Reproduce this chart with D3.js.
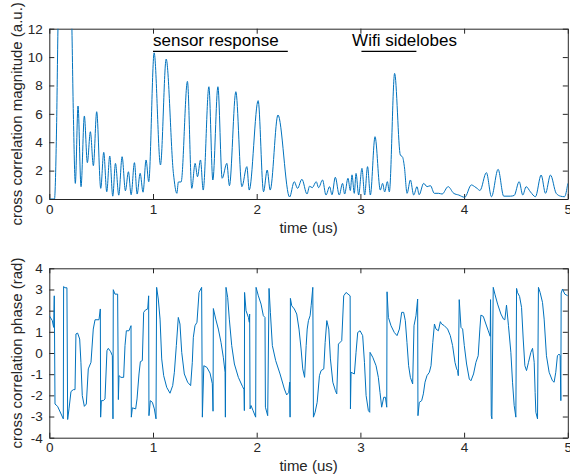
<!DOCTYPE html>
<html>
<head>
<meta charset="utf-8">
<script src="https://cdn.jsdelivr.net/npm/d3@7"></script>
<style>
  body { margin: 0; background: #fff; }
  svg { font-family: "Liberation Sans", Arial, Helvetica, sans-serif; }
  .axis path, .axis line { stroke: #262626; }
  .axis text { fill: #262626; font-size: 13.5px; font-family: "Liberation Sans", Arial, sans-serif; }
  .label { fill: #262626; font-size: 15px; }
</style>
</head>
<body>
<svg id="chart" width="570" height="476"></svg>
<script>
const magT = [0, 0.05, 0.07, 0.085, 0.15, 0.215, 0.232, 0.251, 0.277, 0.306, 0.338, 0.367, 0.396, 0.425, 0.457,
  0.496, 0.525, 0.554, 0.583, 0.612, 0.638, 0.67, 0.702, 0.734, 0.763, 0.789, 0.821, 0.847, 0.876, 0.904,
  0.933, 0.959, 1.011, 1.072, 1.127, 1.197, 1.23, 1.245, 1.271, 1.332, 1.374, 1.406, 1.429, 1.458, 1.484,
  1.539, 1.577, 1.626, 1.667, 1.712, 1.737, 1.799, 1.857, 1.905, 1.928, 2.014, 2.066, 2.101, 2.13, 2.205,
  2.317, 2.362, 2.394, 2.436, 2.485, 2.51, 2.536, 2.574, 2.597, 2.635, 2.668, 2.703, 2.726, 2.758, 2.796,
  2.828, 2.848, 2.88, 2.903, 2.919, 2.941, 2.958, 2.983, 3.015, 3.041, 3.069, 3.096, 3.141, 3.192, 3.214,
  3.234, 3.26, 3.279, 3.33, 3.385, 3.407, 3.424, 3.45, 3.482, 3.514, 3.546, 3.566, 3.61, 3.643, 3.675,
  3.713, 3.755, 3.788, 3.846, 3.9, 3.948, 4.006, 4.07, 4.102, 4.125, 4.153, 4.215, 4.264, 4.328, 4.382,
  4.447, 4.483, 4.531, 4.566, 4.598, 4.64, 4.688, 4.743, 4.785, 4.833, 4.888, 4.93, 4.968, 5.0];
const magV = [0, 0, 5, 12.5, 22, 13, 6, 1.1, 6.55, 0.87, 5.85, 2.56, 4.74, 2.35, 6.15,
  0.75, 3.29, 0.51, 3.03, 0.2, 2.51, 0.27, 2.98, 0.58, 1.92, 0.3, 2.56, 0.35, 1.81, 0.48,
  2.75, 1.22, 10.3, 2.4, 9.86, 1.8, 0.4, 1.2, 1.2, 8.29, 0.75, 2.51, 1.57, 2.75, 0.63,
  7.91, 1.34, 7.91, 1.46, 2.51, 0.94, 7.56, 0.87, 2.28, 0.63, 6.93, 0.51, 2.04, 0.63, 5.92,
  0.14, 1.22, 0.75, 1.39, 0.35, 0.9, 0.8, 1.22, 0.8, 1.34, 0.28, 0.87, 0.3, 1.53, 0.28,
  1.1, 0.35, 1.46, 0.6, 1.7, 0.4, 1.8, 0.28, 2.16, 0.28, 2.28, 0.28, 4.39, 0.63, 1.1,
  0.5, 1.22, 0.5, 8.85, 3.1, 2.95, 2.28, 0.4, 1.34, 0.28, 0.87, 0.3, 1.1, 0.87, 0.94,
  0.4, 0.4, 0.35, 0.87, 0.4, 0.28, 0.12, 0.99, 0.87, 0.75, 0.6, 1.86, 0.16, 2.09, 0.2,
  0.2, 0.25, 1.22, 0.28, 0.87, 0.5, 0.16, 1.69, 0.4, 1.69, 0.4, 0.2, 0.16, 1.1];

// phase trace (time in us, rad)
const phaseT = [0, 0.029, 0.042, 0.048, 0.055, 0.08, 0.135, 0.138, 0.151, 0.17, 0.177, 0.19, 0.209, 0.232, 0.248,
  0.257, 0.273, 0.293, 0.305, 0.318, 0.338, 0.357, 0.376, 0.402, 0.424, 0.441, 0.479, 0.492, 0.495, 0.502,
  0.521, 0.537, 0.556, 0.569, 0.592, 0.608, 0.614, 0.617, 0.633, 0.659, 0.666, 0.672, 0.691, 0.717, 0.73,
  0.743, 0.768, 0.788, 0.791, 0.801, 0.833, 0.846, 0.865, 0.878, 0.897, 0.91, 0.929, 0.949, 0.958, 0.961,
  0.974, 0.994, 1.013, 1.029, 1.035, 1.051, 1.068, 1.084, 1.103, 1.132, 1.164, 1.19, 1.206, 1.225, 1.244,
  1.26, 1.277, 1.302, 1.334, 1.363, 1.379, 1.389, 1.405, 1.424, 1.444, 1.469, 1.476, 1.49, 1.52, 1.55,
  1.572, 1.579, 1.582, 1.605, 1.63, 1.656, 1.678, 1.695, 1.698, 1.704, 1.72, 1.736, 1.759, 1.785, 1.823,
  1.862, 1.878, 1.881, 1.883, 1.897, 1.92, 1.929, 1.932, 1.936, 1.945, 1.965, 1.99, 1.994, 2.016, 2.042,
  2.064, 2.08, 2.084, 2.106, 2.119, 2.132, 2.151, 2.183, 2.225, 2.267, 2.289, 2.309, 2.318, 2.322, 2.325,
  2.338, 2.363, 2.386, 2.408, 2.428, 2.444, 2.462, 2.477, 2.487, 2.499, 2.515, 2.525, 2.541, 2.547, 2.563,
  2.583, 2.605, 2.621, 2.647, 2.66, 2.676, 2.695, 2.711, 2.734, 2.759, 2.772, 2.788, 2.82, 2.839, 2.862,
  2.901, 2.904, 2.91, 2.942, 2.958, 2.974, 2.997, 3.022, 3.039, 3.055, 3.077, 3.09, 3.093, 3.119, 3.151,
  3.173, 3.189, 3.205, 3.225, 3.241, 3.254, 3.257, 3.27, 3.295, 3.327, 3.353, 3.376, 3.398, 3.417, 3.433,
  3.449, 3.465, 3.482, 3.504, 3.517, 3.536, 3.552, 3.555, 3.568, 3.591, 3.607, 3.623, 3.642, 3.665, 3.681,
  3.698, 3.714, 3.729, 3.752, 3.771, 3.783, 3.809, 3.841, 3.867, 3.889, 3.912, 3.928, 3.937, 3.944, 3.953,
  3.97, 3.986, 4.002, 4.024, 4.05, 4.066, 4.091, 4.114, 4.136, 4.152, 4.162, 4.185, 4.21, 4.233, 4.252,
  4.255, 4.262, 4.268, 4.281, 4.297, 4.323, 4.355, 4.38, 4.393, 4.409, 4.428, 4.451, 4.467, 4.483, 4.499,
  4.506, 4.515, 4.535, 4.554, 4.57, 4.586, 4.602, 4.621, 4.644, 4.66, 4.676, 4.685, 4.692, 4.708, 4.717,
  4.733, 4.756, 4.772, 4.794, 4.82, 4.852, 4.868, 4.884, 4.9, 4.916, 4.926, 4.933, 4.936, 4.949, 4.971, 5.0];
const phaseV = [1.76, 1.53, 1.21, 2.7, -2.41, -2.52, -3.11, 3.14, 3.08, 3.08, -3.14, -2.64, -1.82, -1.73, -1.73,
  0.9, 0.94, 0.66, -0.44, -2.01, -2.52, -2.41, -0.75, -0.44, 1.13, 1.57, 1.57, 2.08, -3.03, -2.25,
  -2.25, -2.17, 0.11, 0.22, 0.06, -0.13, -3.11, 2.99, 2.78, 2.78, -2.2, -1.07, -1.15, -1.15, 0.35,
  1.05, 1.05, 1.29, -3.03, -2.59, -2.64, -2.17, -0.99, -0.41, -0.36, 1.92, 2.04, 2.08, 2.7, -2.96,
  -2.25, -2.33, -2.64, -3.11, 3.1, 2.55, 1.6, -0.28, -1.07, -1.62, -1.9, -1.54, -0.91, 0.35, 1.68,
  1.37, 0.03, -0.99, -1.38, -1.54, -0.44, 0.74, 1.29, 1.45, 2.86, 3.1, -3.03, -0.6, -0.68, -0.95,
  -1.45, -2.75, 2.1, 1.6, 1.13, 0.5, -0.2, -0.91, -3.03, 3.1, 2.63, 1.6, 0.35, -0.52, -1.15,
  -1.57, -1.73, -2.72, 2.86, 2.0, 1.68, 1.45, 1.84, -2.64, -2.48, -2.72, -3.03, 3.1, 2.7, 2.31,
  1.76, 1.68, -2.56, -2.96, 3.05, 1.92, 0.35, -0.36, -0.99, -1.7, -1.98, -1.86, -1.38, -3.03, 2.58,
  2.23, 2.08, 1.84, 1.13, 0.19, -0.75, -1.15, 0.35, 1.13, 1.53, 1.76, 2.23, 3.1, -3.03, -2.8,
  -2.33, -1.07, -0.83, -0.75, 0.5, 1.53, 1.13, -0.28, -1.38, -1.78, -1.93, 0.42, 0.58, 2.7, 2.86,
  2.7, -2.64, -0.91, -0.99, 0.03, 0.97, 1.05, 0.82, -0.44, -2.01, -2.72, -2.8, 0.03, -0.2, -0.6,
  -1.15, -1.86, -2.56, -2.09, -2.09, -2.56, 2.89, 1.68, 1.29, 0.97, 0.82, 1.13, 1.92, 1.92, 1.53,
  0.5, -0.6, -1.15, -1.46, 1.29, 1.76, 2.55, -2.96, -2.33, -2.25, -1.93, -1.38, -1.07, -0.91, -0.6,
  0.5, 1.37, 1.13, 1.05, 1.48, 1.37, 1.29, 1.13, 0.82, 0.35, -0.44, -0.75, -0.83, -1.07, 2.52,
  1.21, 1.13, 0.35, -0.52, -1.23, -1.31, -0.99, -0.44, -0.13, 1.13, 1.79, 1.73, 1.37, 1.05, 0.79,
  2.52, -2.96, -3.11, 3.1, 2.78, 2.31, 1.84, 1.6, 1.57, 2.26, 1.29, 0.03, -1.38, -2.48, -3.03,
  3.05, 2.86, 2.67, 2.15, 0.66, -0.6, -0.83, -0.44, 0.03, 0.22, -0.44, -1.86, -2.8, -3.11, 3.1,
  2.86, 2.39, 1.6, -0.13, -0.91, -1.31, -1.38, -0.91, -0.13, -0.05, -0.13, -2.25, 2.83, 3.02, 2.78, 2.7];

const xTicks = [0, 1, 2, 3, 4, 5];
const magTicks = [0, 2, 4, 6, 8, 10, 12];
const phaseTicks = [-4, -3, -2, -1, 0, 1, 2, 3, 4];

// annotation labels with their underline spans (data coords)
const notes = [
  { label: "sensor response", x: 1.0, y: 10.78, x0: 1.0, x1: 2.3, yLine: 10.4 },
  { label: "Wifi sidelobes", x: 2.92, y: 10.78, x0: 3.01, x1: 3.54, yLine: 10.4 },
];

const lineColour = "#0072bd";
const svg = d3.select("#chart");

const xScale = d3.scaleLinear().domain([0, 5]).range([49.3, 567.8]);
const yMag = d3.scaleLinear().domain([0, 12]).range([199, 28.7]);
const yPhase = d3.scaleLinear().domain([-4, 4]).range([437.7, 268.3]);

// plain hyphen minus like matlab
const plainNum = (d) => String(d);

const drawPanel = (id, yScale, yTicks, yLabel, xLabelY) => {
  const [yBottom, yTop] = yScale.range();
  const [xLeft, xRight] = xScale.range();
  const g = svg.append("g").attr("class", id);

  g.append("defs").append("clipPath").attr("id", id + "-clip")
    .append("rect")
    .attr("x", xLeft).attr("y", yTop)
    .attr("width", xRight - xLeft).attr("height", yBottom - yTop);

  // box with ticks on every side, pointing inwards
  g.append("g").attr("class", "axis")
    .attr("transform", `translate(0,${yBottom})`)
    .call(d3.axisBottom(xScale).tickValues(xTicks).tickSize(-5).tickSizeOuter(0).tickPadding(5).tickFormat(plainNum));
  g.append("g").attr("class", "axis")
    .attr("transform", `translate(0,${yTop})`)
    .call(d3.axisTop(xScale).tickValues(xTicks).tickSize(-5).tickSizeOuter(0).tickFormat(""));
  g.append("g").attr("class", "axis")
    .attr("transform", `translate(${xLeft},0)`)
    .call(d3.axisLeft(yScale).tickValues(yTicks).tickSize(-5).tickSizeOuter(0).tickPadding(6.5).tickFormat(plainNum));
  g.append("g").attr("class", "axis")
    .attr("transform", `translate(${xRight},0)`)
    .call(d3.axisRight(yScale).tickValues(yTicks).tickSize(-5).tickSizeOuter(0).tickFormat(""));
  g.selectAll(".axis .domain").attr("stroke-width", 1);

  g.append("text").attr("class", "label")
    .attr("x", (xLeft + xRight) / 2).attr("y", xLabelY)
    .attr("text-anchor", "middle")
    .text("time (us)");

  g.append("text").attr("class", "label")
    .attr("transform", `translate(21.5,${(yTop + yBottom) / 2}) rotate(-90)`)
    .attr("text-anchor", "middle")
    .text(yLabel);

  return g.append("g").attr("clip-path", `url(#${id}-clip)`);
};

// top: magnitude
const magPlot = drawPanel("mag", yMag, magTicks, "cross correlation magnitude (a.u.)", 233);
magPlot.append("path")
  .datum(magT.map((t, i) => [t, magV[i]]))
  .attr("fill", "none")
  .attr("stroke", lineColour)
  .attr("stroke-width", 1)
  .attr("d", d3.line().x((d) => xScale(d[0])).y((d) => yMag(d[1])).curve(d3.curveMonotoneX));

// annotations
const noteG = svg.append("g");
noteG.selectAll("text").data(notes).join("text")
  .attr("x", (d) => xScale(d.x))
  .attr("y", (d) => yMag(d.y))
  .attr("font-size", "17px")
  .attr("fill", "#000")
  .text((d) => d.label);
noteG.selectAll("line").data(notes).join("line")
  .attr("x1", (d) => xScale(d.x0))
  .attr("x2", (d) => xScale(d.x1))
  .attr("y1", (d) => yMag(d.yLine))
  .attr("y2", (d) => yMag(d.yLine))
  .attr("stroke", "#000")
  .attr("stroke-width", 1.3);

// bottom: phase
const phasePlot = drawPanel("phase", yPhase, phaseTicks, "cross correlation phase (rad)", 471);
phasePlot.append("path")
  .datum(phaseT.map((t, i) => [t, phaseV[i]]))
  .attr("fill", "none")
  .attr("stroke", lineColour)
  .attr("stroke-width", 1)
  .attr("stroke-linejoin", "round")
  .attr("d", d3.line().x((d) => xScale(d[0])).y((d) => yPhase(d[1])));
</script>
</body>
</html>
